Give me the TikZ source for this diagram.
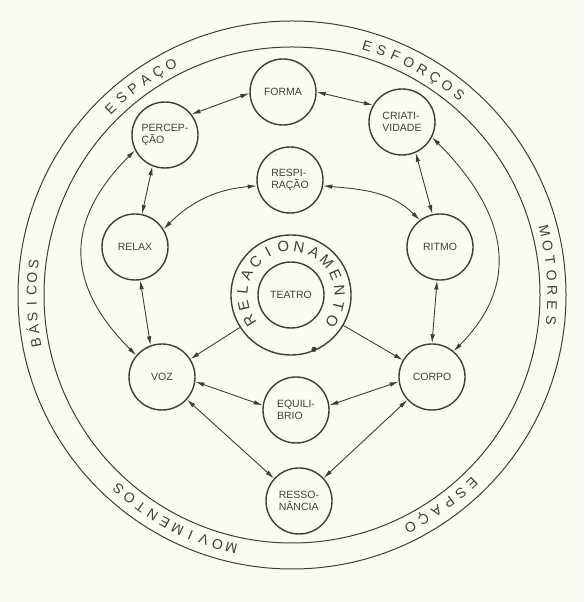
\documentclass[tikz,border=0pt]{standalone}
\usepackage{fontspec}
\setmainfont{Liberation Sans}
\usetikzlibrary{arrows.meta,calc}
\definecolor{ink}{HTML}{3E3E3C}
\definecolor{paper}{HTML}{FBFAF3}
\tikzset{
  nodecirc/.style={circle, draw=ink, line width=1.4pt, minimum size=66pt, inner sep=0pt,
    font=\fontsize{10.5}{11.5}\selectfont, text=ink, align=left},
  link/.style={draw=ink, line width=0.9pt, {Latex[length=9pt,width=4.5pt]}-{Latex[length=9pt,width=4.5pt]}},
  onelink/.style={draw=ink, line width=0.9pt, -{Latex[length=9pt,width=4.5pt]}},
  ringletter/.style={font=\fontsize{14}{14}\selectfont, text=ink, inner sep=0pt, anchor=base},
  relletter/.style={font=\fontsize{15}{15}\selectfont, text=ink, inner sep=0pt, anchor=base},
  ringline/.style={draw=ink, line width=1pt},
}
% #1 centre coordinate, #2 first angle, #3 step (clockwise), #4 radius, #5 style, #6 name prefix, #7 letters
\newcommand\ringword[7]{%
  \foreach \ch [count=\i] in {#7} {%
    \pgfmathsetmacro\ang{#2-(\i-1)*#3}%
    \node[#5, rotate=\ang-90] (#6\i) at ($(#1)+(\ang:#4)$) {\ch};
  }%
}
\begin{document}
\begin{tikzpicture}[x=1pt,y=1pt]
\fill[paper] (0,0) rectangle (584,602);
\useasboundingbox (0,0) rectangle (584,602);
\coordinate (C) at (292,307);
\draw[ringline] (C) circle[radius=274];
\draw[ringline] (C) circle[radius=248];

% ring words
\ringword{C}{134.2}{3.3}{255.5}{ringletter}{ea}{E,S,P,A,Ç,O}
\ringword{C}{73.2}{3.3}{255.5}{ringletter}{ef}{E,S,F,O,R,Ç,O,S}
\ringword{C}{14.2}{3.3}{255.5}{ringletter}{mo}{M,O,T,O,R,E,S}
\ringword{C}{-46.2}{3.35}{255.5}{ringletter}{eb}{E,S,P,A,Ç,O}
\ringword{C}{256.5}{3.15}{255.5}{ringletter}{mv}{M,O,V,I,M,E,N,T,O,S}
\ringword{C}{190.6}{2.9}{255.5}{ringletter}{ba}{B,Á,S,I,C,O,S}

% nodes
\node[nodecirc] (forma) at (283,510) {FORMA};
\node[nodecirc] (perc) at (165,467) {PERCEP-\\ÇÃO};
\node[nodecirc] (cria) at (402,480) {CRIATI-\\VIDADE};
\node[nodecirc] (resp) at (290,422) {RESPI-\\RAÇÃO};
\node[nodecirc] (relax) at (135,355) {RELAX};
\node[nodecirc] (ritmo) at (440,355) {RITMO};
\node[nodecirc] (voz) at (162,225) {VOZ};
\node[nodecirc] (corpo) at (432,225) {CORPO};
\node[nodecirc] (equi) at (296,192) {EQUILI-\\BRIO};
\node[nodecirc] (ress) at (299,101) {RESSO-\\NÂNCIA};

% centre
\node[circle, draw=ink, line width=1.4pt, minimum size=120pt, inner sep=0pt] (rel) at (291,307) {};
\node[nodecirc] (teatro) at (291,307) {TEATRO};
\coordinate (T) at (291,307);
\ringword{T}{212}{18.8}{43.5}{relletter}{rl}{R,E,L,A,C,I,O,N,A,M,E,N,T,O}
\fill[ink] ($(T)+(-67:59)$) circle[radius=2.6];

% connectors
\draw[link] (perc.38) -- (forma.182);
\draw[link] (forma.0) -- (cria.150);
\draw[link] (perc.248) -- (relax.78);
\draw[link] (cria.-66) -- (ritmo.103);
\draw[link] (relax.32) to[out=45,in=185] (resp.190);
\draw[link] (resp.-10) to[out=-5,in=135] (ritmo.127);
\draw[link] (relax.-81) -- (voz.110);
\draw[link] (ritmo.-95) -- (corpo.90);
\draw[link] (voz.140) to[out=135,in=225,looseness=1.25] (perc.207);
\draw[link] (corpo.50) to[out=45,in=-45,looseness=1.2] (cria.-27);
\draw[link] (voz.-8) -- (equi.172);
\draw[link] (equi.8) -- (corpo.-172);
\draw[link] (voz) -- (ress);
\draw[link] (corpo) -- (ress);
\draw[onelink] (rel) -- (voz);
\draw[onelink] (rel) -- (corpo);
\end{tikzpicture}
\end{document}
